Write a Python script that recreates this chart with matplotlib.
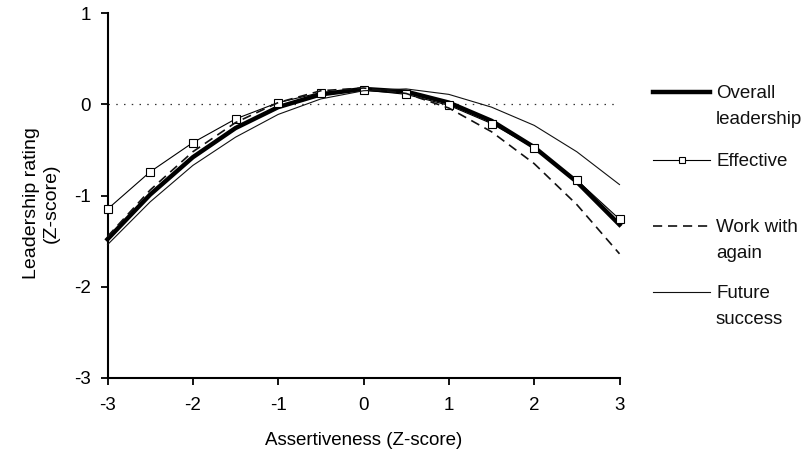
import numpy as np
import matplotlib
matplotlib.use("Agg")
import matplotlib.pyplot as plt

plt.rcParams["font.family"] = ["Liberation Sans", "DejaVu Sans"]
plt.rcParams["axes.unicode_minus"] = False

# Assertiveness z-scores (0.5 steps) and leadership ratings (z-scores)
assertiveness = [-3, -2.5, -2, -1.5, -1, -0.5, 0, 0.5, 1, 1.5, 2, 2.5, 3]
overall = [-1.48, -0.99, -0.58, -0.26, -0.03, 0.11, 0.17, 0.14, 0.02, -0.18, -0.47, -0.85, -1.32]
effective = [-1.15, -0.74, -0.42, -0.16, 0.02, 0.13, 0.16, 0.11, -0.01, -0.21, -0.48, -0.83, -1.26]
work_again = [-1.45, -0.94, -0.52, -0.20, 0.02, 0.15, 0.18, 0.12, -0.04, -0.30, -0.65, -1.10, -1.64]
future = [-1.54, -1.07, -0.67, -0.36, -0.11, 0.06, 0.15, 0.17, 0.11, -0.03, -0.23, -0.52, -0.88]

x_ticks = [-3, -2, -1, 0, 1, 2, 3]
y_ticks = [-3, -2, -1, 0, 1]
legend_labels = ["Overall\nleadership", "Effective", "Work with\nagain", "Future\nsuccess"]

FS = 13.5
W, H = 808, 459

fig = plt.figure(figsize=(W / 100, H / 100), dpi=100)
ax = fig.add_axes([107.5 / W, 1 - 377.7 / H, 512 / W, 364.4 / H])

styles = [
    dict(color="black", lw=3.2, ls="-"),
    dict(color="black", lw=0.8, ls="-", marker="s", markersize=6,
         markerfacecolor="white", markeredgecolor="black", markeredgewidth=0.8),
    dict(color="#111111", lw=1.2, ls=(0, (5.5, 3.5))),
    dict(color="#111111", lw=0.8, ls="-"),
]
series = [overall, effective, work_again, future]
marker_keys = ("marker", "markersize", "markerfacecolor", "markeredgecolor", "markeredgewidth")

ax.axhline(0, color="#333333", lw=0.9, ls=(0, (1.2, 5)), zorder=1)
# thin lines first, effective last so its markers sit on top
for idx in [3, 2, 0, 1]:
    ax.plot(assertiveness, series[idx], zorder=2 + idx, clip_on=False, **styles[idx])

ax.set_xlim(-3, 3)
ax.set_ylim(-3, 1)
ax.set_xticks(x_ticks)
ax.set_yticks(y_ticks)
ax.spines[["top", "right"]].set_visible(False)
for s in ["left", "bottom"]:
    ax.spines[s].set_linewidth(1.5)
ax.tick_params(direction="out", length=5, width=1.3, labelsize=FS)
ax.tick_params(axis="x", pad=9)
ax.tick_params(axis="y", pad=7)

ax.set_xlabel("Assertiveness (Z-score)", fontsize=FS)
ax.xaxis.set_label_coords(0.5, -0.148)
ax.set_ylabel("Leadership rating\n(Z-score)", fontsize=FS + 0.5, linespacing=1.25)
ax.yaxis.set_label_coords(-0.093, 0.48)

# hand-made legend on the right, in pixel coordinates
lax = fig.add_axes([0, 0, 1, 1])
lax.set_xlim(0, W)
lax.set_ylim(H, 0)
lax.axis("off")
row_y = [92, 160, 226, 292]
for label, y, st in zip(legend_labels, row_y, styles):
    line_st = {k: v for k, v in st.items() if k not in marker_keys}
    lax.plot([653, 710], [y, y], **line_st)
    if "marker" in st:
        mk = {k: v for k, v in st.items() if k in marker_keys}
        mk["markersize"] = 4.5
        lax.plot([681.5], [y], ls="none", **mk)
    for k, line in enumerate(label.split("\n")):
        lax.text(716, y + 25 * k, line, fontsize=FS, ha="left",
                 va="center_baseline", color="#111111")

fig.savefig("out.png", dpi=100)
